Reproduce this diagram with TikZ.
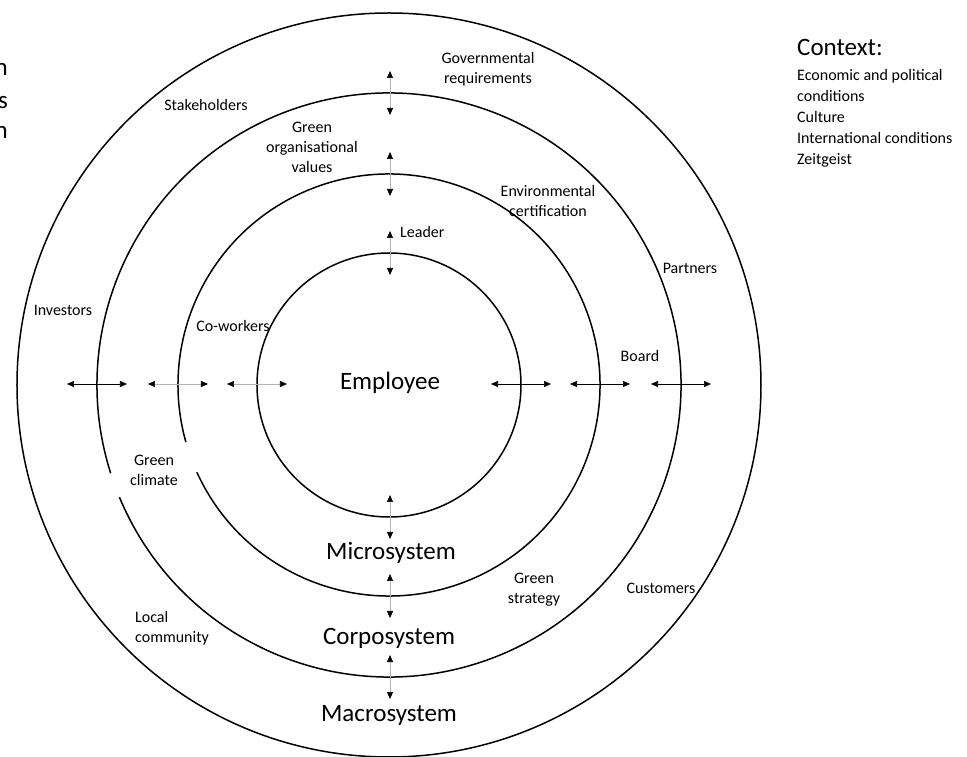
\documentclass[tikz,border=0pt]{standalone}
\usepackage{fontspec}
\setmainfont{Carlito}
\usetikzlibrary{arrows.meta}

\begin{document}
\begin{tikzpicture}[x=1pt,y=1pt]
\tikzset{etiq/.style={font=\fontsize{16}{20}\selectfont, align=center, inner sep=0pt},
grand/.style={font=\fontsize{25}{30}\selectfont, inner sep=0pt},
cercle/.style={line width=1.5pt},
fleche/.style={{Triangle[length=7pt,width=6pt,color=black]}-{Triangle[length=7pt,width=6pt,color=black]}, line width=0.7pt},
flechegris/.style={fleche, draw=black!30}}
\useasboundingbox (-389,-372) rectangle (578,385);
\draw[cercle] (0,0) circle[radius=132pt];
\draw[cercle] (204.4:211pt) arc[start angle=204.4, end angle=555.7, radius=211pt];
\draw[cercle] (202.6:292pt) arc[start angle=202.6, end angle=557.6, radius=292pt];
\draw[cercle] (0,0) circle[radius=372pt];
\foreach \r/\s in {132/flechegris,211/flechegris,292/fleche}{
  \coordinate (Ga\r) at (-\r-30,1);
  \coordinate (Gb\r) at (-\r+30,1);
  \draw[\s] (Ga\r) -- (Gb\r);
  \coordinate (Da\r) at (\r-30,1);
  \coordinate (Db\r) at (\r+30,1);
  \draw[fleche] (Da\r) -- (Db\r);
  \coordinate (Ha\r) at (1,\r-22);
  \coordinate (Hb\r) at (1,\r+22);
  \draw[flechegris] (Ha\r) -- (Hb\r);
  \coordinate (Ba\r) at (1,-\r-22);
  \coordinate (Bb\r) at (1,-\r+22);
  \draw[flechegris] (Ba\r) -- (Bb\r);
}
\node[grand] (Emp) at (1,2) {Employee};
\node[grand] (Mic) at (2,-168) {Microsystem};
\node[grand] (Cor) at (0,-253) {Corposystem};
\node[grand] (Mac) at (0,-330) {Macrosystem};
\node[etiq] (Gov) at (99,316) {Governmental\\requirements};
\node[etiq] (Sta) at (-183,280) {Stakeholders};
\node[etiq] (Val) at (-77,238) {Green\\organisational\\values};
\node[etiq] (Env) at (159,184) {Environmental\\certification};
\node[etiq, anchor=west] (Lea) at (11,153) {Leader};
\node[etiq] (Par) at (301,117) {Partners};
\node[etiq] (Inv) at (-326,75) {Investors};
\node[etiq] (Cow) at (-156,59) {Co-workers};
\node[etiq] (Boa) at (251,29) {Board};
\node[etiq] (Cli) at (-235,-85) {Green\\climate};
\node[etiq] (Str) at (145,-205) {Green\\strategy};
\node[etiq] (Cus) at (272,-203) {Customers};
\node[etiq, align=left, anchor=west] (Loc) at (-254,-243) {Local\\community};
\node[grand, anchor=base west] (Ctx) at (408,329) {Context:};
\node[etiq, align=left, anchor=north west, font=\fontsize{16}{21}\selectfont] (Lst) at (408,316) {Economic and political\\conditions\\Culture\\International conditions\\Zeitgeist};
\node[grand, anchor=base east] (T1) at (-381,309) {n};
\node[grand, anchor=base east] (T2) at (-381,276) {s};
\node[grand, anchor=base east] (T3) at (-381,246) {n};
\end{tikzpicture}
\end{document}
